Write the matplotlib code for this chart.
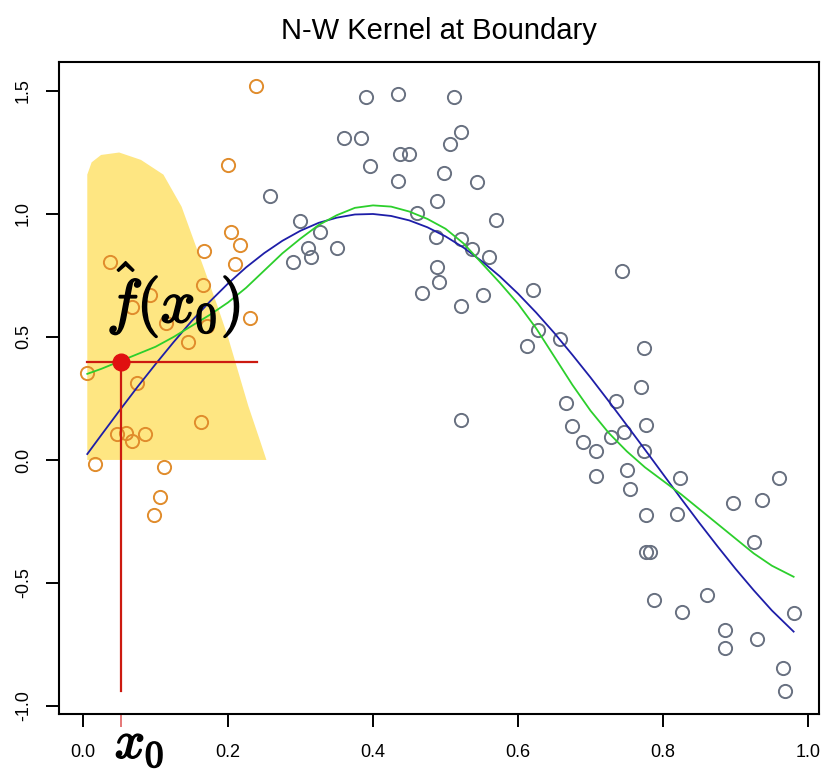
import matplotlib
matplotlib.use("Agg")
import matplotlib.pyplot as plt
import matplotlib.patheffects as pe
from matplotlib.transforms import blended_transform_factory

# ---------------- data ----------------
title = "N-W Kernel at Boundary"

# points inside the kernel window (orange)
in_x = [0.239, 0.200, 0.204, 0.216, 0.167, 0.037, 0.210, 0.166, 0.092, 0.067,
        0.115, 0.171, 0.230, 0.145, 0.006, 0.074, 0.163, 0.047, 0.060, 0.068,
        0.086, 0.017, 0.112, 0.106, 0.098]
in_y = [1.52, 1.20, 0.928, 0.874, 0.850, 0.806, 0.796, 0.711, 0.672, 0.623,
        0.556, 0.546, 0.578, 0.480, 0.352, 0.312, 0.154, 0.106, 0.108, 0.075,
        0.104, -0.018, -0.027, -0.152, -0.224]

# points outside the kernel window (gray)
out_x = [0.258, 0.299, 0.327, 0.350, 0.311, 0.315, 0.289, 0.391, 0.434, 0.511,
         0.360, 0.384, 0.522, 0.506, 0.437, 0.449, 0.396, 0.434, 0.498, 0.544,
         0.488, 0.570, 0.461, 0.487, 0.522, 0.536, 0.560, 0.488, 0.491, 0.467,
         0.551, 0.522, 0.620, 0.521, 0.743, 0.628, 0.613, 0.658, 0.773, 0.770,
         0.666, 0.735, 0.674, 0.776, 0.746, 0.690, 0.728, 0.708, 0.773, 0.750,
         0.708, 0.823, 0.754, 0.776, 0.819, 0.960, 0.896, 0.937, 0.926, 0.777,
         0.782, 0.788, 0.826, 0.861, 0.886, 0.886, 0.929, 0.980, 0.965, 0.968]
out_y = [1.074, 0.973, 0.926, 0.861, 0.863, 0.826, 0.806, 1.477, 1.486, 1.477,
         1.308, 1.308, 1.332, 1.285, 1.244, 1.244, 1.197, 1.133, 1.165, 1.129,
         1.053, 0.976, 1.003, 0.908, 0.898, 0.858, 0.826, 0.786, 0.725, 0.678,
         0.671, 0.625, 0.691, 0.163, 0.770, 0.528, 0.465, 0.491, 0.454, 0.298,
         0.230, 0.241, 0.140, 0.142, 0.115, 0.072, 0.095, 0.037, 0.037, -0.041,
         -0.065, -0.075, -0.119, -0.224, -0.221, -0.075, -0.176, -0.163, -0.332, -0.373,
         -0.373, -0.569, -0.617, -0.549, -0.691, -0.763, -0.729, -0.623, -0.847, -0.938]

# true function (blue) and Nadaraya-Watson fit (green)
curve_x = [0.006, 0.025, 0.05, 0.075, 0.10, 0.125, 0.15, 0.175, 0.20, 0.225,
           0.25, 0.275, 0.30, 0.325, 0.35, 0.375, 0.40, 0.425, 0.45, 0.475,
           0.50, 0.525, 0.55, 0.575, 0.60, 0.625, 0.65, 0.675, 0.70, 0.725,
           0.75, 0.775, 0.80, 0.825, 0.85, 0.875, 0.90, 0.925, 0.95, 0.98]
true_y = [0.024, 0.100, 0.199, 0.296, 0.389, 0.479, 0.565, 0.644, 0.717, 0.783,
          0.841, 0.891, 0.932, 0.964, 0.985, 0.998, 1.000, 0.992, 0.974, 0.946,
          0.909, 0.863, 0.808, 0.746, 0.676, 0.599, 0.516, 0.427, 0.335, 0.239,
          0.141, 0.042, -0.058, -0.158, -0.256, -0.351, -0.443, -0.530, -0.612, -0.698]
fit_y = [0.35, 0.37, 0.40, 0.43, 0.46, 0.50, 0.545, 0.59, 0.64, 0.70,
         0.77, 0.84, 0.90, 0.955, 0.995, 1.025, 1.035, 1.03, 1.01, 0.98,
         0.94, 0.88, 0.80, 0.72, 0.635, 0.535, 0.42, 0.305, 0.20, 0.11,
         0.035, -0.03, -0.085, -0.14, -0.20, -0.26, -0.32, -0.38, -0.43, -0.475]

# kernel weight region (yellow) outline
kern_x = [0.006, 0.006, 0.012, 0.025, 0.050, 0.080, 0.111, 0.136, 0.152, 0.168,
          0.185, 0.200, 0.214, 0.228, 0.244, 0.253]
kern_y = [0.0, 1.16, 1.21, 1.24, 1.25, 1.22, 1.16, 1.03, 0.90, 0.77,
          0.63, 0.50, 0.36, 0.22, 0.08, 0.0]

x0 = 0.053
fhat = 0.398
hline_x = [0.006, 0.240]
vline_bottom = -0.94

xticks = [0.0, 0.2, 0.4, 0.6, 0.8, 1.0]
xtick_labels = ["0.0", "0.2", "0.4", "0.6", "0.8", "1.0"]
yticks = [-1.0, -0.5, 0.0, 0.5, 1.0, 1.5]
ytick_labels = ["-1.0", "-0.5", "0.0", "0.5", "1.0", "1.5"]

# ---------------- figure ----------------
plt.rcParams['font.family'] = ['Liberation Sans', 'DejaVu Sans']
plt.rcParams['mathtext.fontset'] = 'cm'

W, H = 823, 771
fig = plt.figure(figsize=(W / 100, H / 100), dpi=100)
L, R, T, B = 59, 819, 62, 714
ax = fig.add_axes([L / W, 1 - B / H, (R - L) / W, (B - T) / H])

ax.set_xlim(-0.033, 1.015)
ax.set_ylim(-1.033, 1.618)

ax.fill(kern_x, kern_y, color="#FEE682", lw=0, zorder=1)

ax.plot(out_x, out_y, 'o', ms=9.5, mfc='none', mec='#687080', mew=1.4, zorder=3)
ax.plot(in_x, in_y, 'o', ms=9.5, mfc='none', mec='#E08C2C', mew=1.4, zorder=3)

ax.plot(curve_x, true_y, color='#1e1ea8', lw=1.3, zorder=4)
ax.plot(curve_x, fit_y, color='#2ccf2c', lw=1.3, zorder=4)

ax.plot(hline_x, [fhat, fhat], color='#cc1a10', lw=1.6, zorder=5)
ax.plot([x0, x0], [fhat, vline_bottom], color='#cc1a10', lw=1.6, zorder=5)
ax.plot([x0], [fhat], 'o', ms=12, color='#e01010', zorder=6)

for s in ax.spines.values():
    s.set_linewidth(1.5)
    s.set_color('black')

ax.set_xticks(xticks)
ax.set_xticklabels(xtick_labels, fontsize=13)
ax.set_yticks(yticks)
ax.set_yticklabels(ytick_labels, fontsize=13, rotation=90, va='center')
ax.tick_params(axis='both', which='major', direction='out', length=9.5, width=1.4)
ax.tick_params(axis='x', which='major', pad=12)
ax.tick_params(axis='y', which='major', pad=10)
ax.set_xticks([x0], minor=True)
ax.tick_params(axis='x', which='minor', direction='out', length=9, width=1.2, color='#e06060')

fig.text((L + R) / 2 / W, 1 - 39 / H, title, ha='center', va='baseline', fontsize=21)

stroke = [pe.withStroke(linewidth=1.2, foreground='black')]
ax.text(0.033, 0.56, r'$\hat{f}(x_0)$', fontsize=44, ha='left', va='baseline',
        zorder=7, path_effects=stroke)
tr = blended_transform_factory(ax.transData, ax.transAxes)
ax.text(0.044, -(758 - B) / (B - T), r'$x_0$', transform=tr, fontsize=38,
        ha='left', va='baseline', path_effects=stroke, clip_on=False)

fig.savefig("out.png", dpi=100)
